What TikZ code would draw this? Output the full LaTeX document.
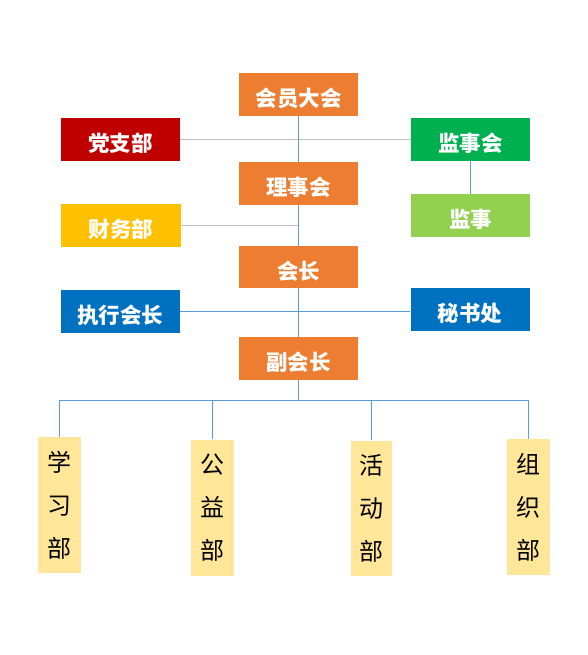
\documentclass[tikz,border=0pt]{standalone}
\usepackage{fontspec}
\newfontfamily\cjk{Noto Sans CJK SC}
\definecolor{corange}{HTML}{ED7D31}
\definecolor{cdred}{HTML}{C00000}
\definecolor{cgreen}{HTML}{00B050}
\definecolor{clgreen}{HTML}{92D050}
\definecolor{cyellow}{HTML}{FFC000}
\definecolor{cblue}{HTML}{0070C0}
\definecolor{clyellow}{HTML}{FFE699}
\definecolor{lblue}{HTML}{5B9BD5}
\definecolor{lgray}{HTML}{BFBFBF}
\newcommand{\lowtext}[1]{\raisebox{-4pt}[\height][\depth]{#1}}
\begin{document}
\begin{tikzpicture}[x=1pt,y=-1pt,
  topbox/.style={minimum width=119pt, minimum height=43pt, inner sep=0pt, text=white,
    font=\cjk\bfseries\fontsize{21.5}{25}\selectfont},
  deptbox/.style={fill=clyellow, minimum width=43pt, minimum height=136pt, inner sep=0pt,
    align=center, font=\cjk\fontsize{24}{43}\selectfont},
  blueline/.style={draw=lblue, line width=1pt},
  grayline/.style={draw=lgray, line width=1pt}]
\useasboundingbox (0,0) rectangle (587,655);
\node[topbox, fill=corange] (hy) at (298.5,94.5) {\lowtext{会员大会}};
\node[topbox, fill=cdred] (dzb) at (120.5,139.5) {\lowtext{党支部}};
\node[topbox, fill=cgreen] (jsh) at (470.5,139.5) {\lowtext{监事会}};
\node[topbox, fill=corange] (lsh) at (298.5,183.5) {\lowtext{理事会}};
\node[topbox, fill=clgreen] (js) at (470.5,215.5) {\lowtext{监事}};
\node[topbox, fill=cyellow, minimum width=120pt] (cwb) at (121,225.5) {\lowtext{财务部}};
\node[topbox, fill=corange, minimum height=42pt] (hz) at (298.5,267) {\lowtext{会长}};
\node[topbox, fill=cblue] (zxhz) at (120,311.5) {\lowtext{执行会长}};
\node[topbox, fill=cblue] (msc) at (470,309.5) {\lowtext{秘书处}};
\node[topbox, fill=corange] (fhz) at (298.5,358.3) {\lowtext{副会长}};
\node[deptbox] (xxb) at (59.5,505) {学\\习\\部};
\node[deptbox, minimum width=42.5pt] (gyb) at (212.5,507.5) {公\\益\\部};
\node[deptbox, minimum width=41.5pt, minimum height=135pt] (hdb) at (371.5,508) {活\\动\\部};
\node[deptbox] (zzb) at (528.5,507) {组\\织\\部};
\coordinate (bus) at (298.5,400.5);
% gray connectors
\draw[grayline] (dzb.east) -- (jsh.west);
\draw[grayline] (cwb.east) -- (cwb.east -| lsh.south);
% blue connectors
\draw[blueline] (hy) -- (lsh);
\draw[blueline] (lsh) -- (hz);
\draw[blueline] (hz) -- (fhz);
\draw[blueline] (jsh) -- (js);
\draw[blueline] (zxhz.east) -- (zxhz.east -| msc.west);
\draw[blueline] (fhz.south) -- (bus);
\draw[blueline] (xxb.north) -- (xxb.north |- bus) -- (zzb.north |- bus) -- (zzb.north);
\draw[blueline] (gyb.north) -- (gyb.north |- bus);
\draw[blueline] (hdb.north) -- (hdb.north |- bus);
\end{tikzpicture}
\end{document}
